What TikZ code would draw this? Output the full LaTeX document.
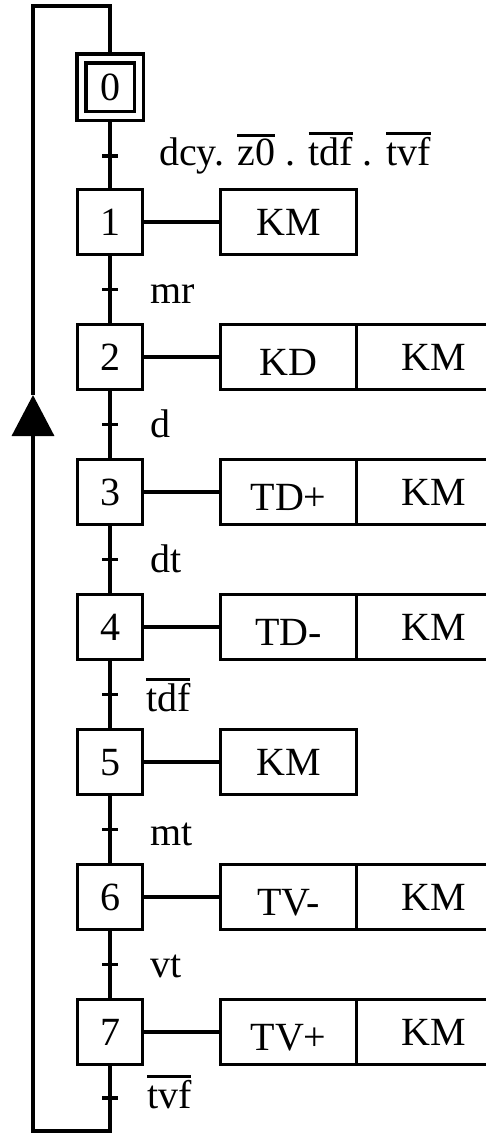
\documentclass[tikz,border=0pt]{standalone}
\usepackage{fontspec}
\setmainfont{Liberation Serif}
\usetikzlibrary{positioning,arrows.meta}
\newcommand{\nega}[1]{\vbox{\hrule height 3pt\kern 2.5pt\hbox{#1}}}

\begin{document}
\begin{tikzpicture}[x=1pt, y=1pt, node distance=135pt, line width=3.5pt,
  every node/.style={inner sep=0pt, outer sep=0pt, font=\fontsize{40}{48}\selectfont},
  step node/.style={draw, minimum size=65pt, text height=27pt, text depth=0pt},
  init node/.style={draw, double, double distance=5.5pt, minimum size=57.5pt, outer sep=6.25pt, text height=27pt, text depth=0pt},
  act node/.style={draw, minimum width=136pt, minimum height=65pt, text height=27pt, text depth=0pt},
  low/.style={text height=37pt},
  trans tick/.style={fill, minimum width=16pt, minimum height=3.5pt},
  cond/.style={anchor=base west}]
\useasboundingbox (0,0) rectangle (486,-1133);

\node[init node]             (0) at (110,-87) {0};
\node[step node, below of=0] (1) {1};
\node[step node, below of=1] (2) {2};
\node[step node, below of=2] (3) {3};
\node[step node, below of=3] (4) {4};
\node[step node, below of=4] (5) {5};
\node[step node, below of=5] (6) {6};
\node[step node, below of=6] (7) {7};

% actions
\node[act node, right=78pt of 1]      (a1) {KM};
\node[act node, low, right=78pt of 2] (a2) {KD};
\node[act node, minimum width=155pt, right=0pt of a2] (b2) {KM};
\node[act node, low, right=78pt of 3] (a3) {TD+};
\node[act node, minimum width=155pt, right=0pt of a3] (b3) {KM};
\node[act node, low, right=78pt of 4] (a4) {TD-};
\node[act node, minimum width=155pt, right=0pt of a4] (b4) {KM};
\node[act node, right=78pt of 5]      (a5) {KM};
\node[act node, low, right=78pt of 6] (a6) {TV-};
\node[act node, minimum width=155pt, right=0pt of a6] (b6) {KM};
\node[act node, low, right=78pt of 7] (a7) {TV+};
\node[act node, minimum width=155pt, right=0pt of a7] (b7) {KM};

\path[draw]
(1) -- (a1)
(2) -- (a2)
(3) -- (a3)
(4) -- (a4)
(5) -- (a5)
(6) -- (a6)
(7) -- (a7);

% transitions
\draw (0) -- node[trans tick] (t0) {} (1);
\draw (1) -- node[trans tick] (t1) {} (2);
\draw (2) -- node[trans tick] (t2) {} (3);
\draw (3) -- node[trans tick] (t3) {} (4);
\draw (4) -- node[trans tick] (t4) {} (5);
\draw (5) -- node[trans tick] (t5) {} (6);
\draw (6) -- node[trans tick] (t6) {} (7);

\node[right=41pt of t0, cond, yshift=-10pt] (c0) {dcy. \nega{z0} . \nega{tdf} . \nega{tvf}};
\node[right=32pt of t1, cond, yshift=-14pt] (c1) {mr};
\node[right=32pt of t2, cond, yshift=-13pt] (c2) {d};
\node[right=32pt of t3, cond, yshift=-13pt] (c3) {dt};
\node[right=28pt of t4, cond, yshift=-17pt] (c4) {\nega{tdf}};
\node[right=32pt of t5, cond, yshift=-16pt] (c5) {mt};
\node[right=32pt of t6, cond, yshift=-13pt] (c6) {vt};

% loop back to the initial step
\coordinate (b)  at (110,-1131);
\coordinate (bl) at (33,-1131);
\coordinate (ar) at (33,-395);
\coordinate (tl) at (33,-6);
\coordinate (tr) at (110,-6);
\draw[-{Triangle[length=41pt,width=42pt]}] (7) -- node[trans tick, pos=.5] (t7) {} (b) -- (bl) -- (ar);
\draw (ar) -- (tl) -- (tr) -- (0);
\node[right=29pt of t7, cond, yshift=-11pt] (c7) {\nega{tvf}};
\end{tikzpicture}
\end{document}
